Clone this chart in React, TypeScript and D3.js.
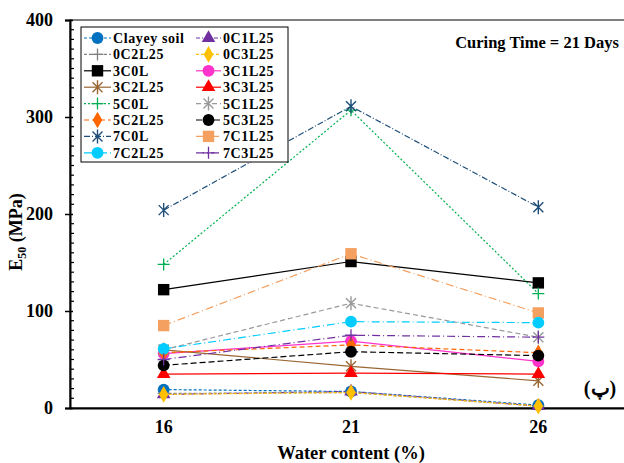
import React, { useEffect, useRef } from 'react'
import * as d3 from 'd3'

// water content categories (%)
const waterContent = ['16', '21', '26']

// E50 values (MPa) per mix
const clayeySoil = [19, 17, 3]
const c0l1 = [14, 17, 2]
const c0l2 = [15, 16, 2]
const c0l3 = [14, 16, 2]
const c3l0 = [122, 151, 129]
const c3l1 = [56, 69, 48]
const c3l2 = [60, 43, 28]
const c3l3 = [35, 36, 35]
const c5l0 = [148, 307, 118]
const c5l1 = [60, 108, 73]
const c5l2 = [57, 65, 57]
const c5l3 = [44, 58, 54]
const c7l0 = [204, 311, 207]
const c7l1 = [85, 159, 98]
const c7l2 = [61, 89, 88]
const c7l3 = [50, 75, 73]

const yTicks = [0, 100, 200, 300, 400]

type Marker = 'circle' | 'triangle' | 'plus' | 'diamond' | 'square' | 'star'
interface Series {
  name: string
  values: number[]
  color: string
  marker: Marker
  dash: string
}

const series: Series[] = [
  { name: 'Clayey soil', values: clayeySoil, color: '#0070C0', marker: 'circle', dash: '3,2' },
  { name: '0C1L25', values: c0l1, color: '#7030A0', marker: 'triangle', dash: '4,2,1,2' },
  { name: '0C2L25', values: c0l2, color: '#808080', marker: 'plus', dash: '3,2' },
  { name: '0C3L25', values: c0l3, color: '#FFC000', marker: 'diamond', dash: '3,2' },
  { name: '3C0L', values: c3l0, color: '#000000', marker: 'square', dash: '' },
  { name: '3C1L25', values: c3l1, color: '#FF33CC', marker: 'circle', dash: '' },
  { name: '3C2L25', values: c3l2, color: '#996633', marker: 'star', dash: '' },
  { name: '3C3L25', values: c3l3, color: '#FF0000', marker: 'triangle', dash: '' },
  { name: '5C0L', values: c5l0, color: '#00B050', marker: 'plus', dash: '2,2' },
  { name: '5C1L25', values: c5l1, color: '#999999', marker: 'star', dash: '5,3' },
  { name: '5C2L25', values: c5l2, color: '#FF6600', marker: 'diamond', dash: '5,3' },
  { name: '5C3L25', values: c5l3, color: '#000000', marker: 'circle', dash: '6,3' },
  { name: '7C0L', values: c7l0, color: '#1F4E79', marker: 'star', dash: '6,2,1,2' },
  { name: '7C1L25', values: c7l1, color: '#F4A060', marker: 'square', dash: '8,3,1,3' },
  { name: '7C2L25', values: c7l2, color: '#00CCFF', marker: 'circle', dash: '8,3,1,3' },
  { name: '7C3L25', values: c7l3, color: '#7030A0', marker: 'plus', dash: '8,3,1,3' },
]

const FONT = '"Liberation Serif", "Times New Roman", serif'

const drawMarker = (g: any, m: Marker, x: number, y: number, color: string) => {
  if (m === 'plus') {
    g.append('path').attr('d', `M${x - 6},${y}H${x + 6}M${x},${y - 6}V${y + 6}`)
      .attr('stroke', color).attr('stroke-width', 1.3).attr('fill', 'none')
  } else if (m === 'star') {
    g.append('path')
      .attr('d', `M${x - 5},${y - 5}L${x + 5},${y + 5}M${x - 5},${y + 5}L${x + 5},${y - 5}M${x},${y - 7}V${y + 7}`)
      .attr('stroke', color).attr('stroke-width', 1.4).attr('fill', 'none')
  } else {
    const typ = { circle: d3.symbolCircle, triangle: d3.symbolTriangle, diamond: d3.symbolDiamond, square: d3.symbolSquare }[m]
    const size = { circle: 110, triangle: 80, diamond: 80, square: 130 }[m]
    g.append('path')
      .attr('d', d3.symbol().type(typ).size(size)())
      .attr('transform', `translate(${x},${y})`)
      .attr('fill', color)
  }
}

const App = () => {
  const ref = useRef<SVGSVGElement>(null)

  useEffect(() => {
    document.body.style.margin = '0'
    const svg = d3.select(ref.current)
    svg.selectAll('*').remove()

    const left = 70
    const top = 20
    const bottom = 408
    const right = 632

    const x = d3.scaleBand().domain(waterContent).range([left, right])
    const y = d3.scaleLinear().domain([0, 400]).range([bottom, top])
    const cx = (c: string) => (x(c) as number) + x.bandwidth() / 2

    // frame
    svg.append('rect')
      .attr('x', left).attr('y', top).attr('width', right - left).attr('height', bottom - top)
      .attr('fill', 'none').attr('stroke', '#000').attr('stroke-width', 1)

    // y axis
    const yAxis = svg.append('g')
      .attr('transform', `translate(${left},0)`)
      .call(d3.axisLeft(y).tickValues(yTicks).tickSize(5).tickPadding(12).tickFormat(d3.format('d')))
    yAxis.select('.domain').attr('stroke', '#000').attr('stroke-width', 2)
    yAxis.selectAll('.tick line').attr('x2', -5).attr('x1', 3).attr('stroke-width', 1.5)
    yAxis.selectAll('text')
      .style('font-family', FONT).style('font-size', '18px').style('font-weight', 'bold').attr('fill', '#000')

    // minor ticks
    svg.append('g').selectAll('line')
      .data(d3.range(10, 400, 10).filter(v => v % 100 !== 0))
      .join('line')
      .attr('x1', left).attr('x2', left + 4)
      .attr('y1', d => y(d)).attr('y2', d => y(d))
      .attr('stroke', '#000').attr('stroke-width', 1.2)

    // x axis
    const xAxis = svg.append('g')
      .attr('transform', `translate(0,${bottom})`)
      .call(d3.axisBottom(x).tickSize(0).tickPadding(12))
    xAxis.select('.domain').attr('stroke', '#000').attr('stroke-width', 2)
    xAxis.selectAll('text')
      .style('font-family', FONT).style('font-size', '18px').style('font-weight', 'bold').attr('fill', '#000')

    // lines and markers
    const line = d3.line<number>().x((_, i) => cx(waterContent[i])).y(d => y(d))
    series.forEach(s => {
      svg.append('path')
        .attr('d', line(s.values))
        .attr('fill', 'none')
        .attr('stroke', s.color)
        .attr('stroke-width', 1.2)
        .attr('stroke-dasharray', s.dash || null)
    })
    series.forEach(s => {
      const g = svg.append('g')
      s.values.forEach((v, i) => drawMarker(g, s.marker, cx(waterContent[i]), y(v), s.color))
    })

    // legend
    const lg = svg.append('g')
    lg.append('rect')
      .attr('x', 81).attr('y', 27).attr('width', 207).attr('height', 135)
      .attr('fill', '#fff').attr('stroke', '#000').attr('stroke-width', 1)
    series.forEach((s, i) => {
      const col = i % 2
      const row = Math.floor(i / 2)
      const ly = 38 + row * 16.4
      const x0 = col === 0 ? 84 : 196
      const x1 = col === 0 ? 111 : 221
      lg.append('line')
        .attr('x1', x0).attr('x2', x1).attr('y1', ly).attr('y2', ly)
        .attr('stroke', s.color).attr('stroke-width', 1.2)
        .attr('stroke-dasharray', s.dash || null)
      drawMarker(lg, s.marker, (x0 + x1) / 2, ly, s.color)
      lg.append('text')
        .attr('x', x1 + 2).attr('y', ly + 5)
        .style('font-family', FONT).style('font-size', '14px').style('font-weight', 'bold')
        .style('letter-spacing', '0.6px')
        .text(s.name)
    })

    // annotations
    svg.append('text')
      .attr('x', 537).attr('y', 48).attr('text-anchor', 'middle')
      .style('font-family', FONT).style('font-size', '16.5px').style('font-weight', 'bold')
      .text('Curing Time = 21 Days')

    svg.append('text')
      .attr('x', 600).attr('y', 395).attr('text-anchor', 'middle')
      .style('font-family', FONT).style('font-size', '20px').style('font-weight', 'bold')
      .text('(پ)')

    svg.append('text')
      .attr('x', 351).attr('y', 459).attr('text-anchor', 'middle')
      .style('font-family', FONT).style('font-size', '18.5px').style('font-weight', 'bold')
      .text('Water content (%)')

    const yl = svg.append('text')
      .attr('transform', 'translate(22,232) rotate(-90)')
      .attr('text-anchor', 'middle')
      .style('font-family', FONT).style('font-size', '18px').style('font-weight', 'bold')
    yl.append('tspan').text('E')
    yl.append('tspan').attr('dy', 4).style('font-size', '12px').text('50')
    yl.append('tspan').attr('dy', -4).text(' (MPa)')
  }, [])

  return <svg ref={ref} width={624} height={463} style={{ display: 'block', background: '#fff' }} />
}

export default App
